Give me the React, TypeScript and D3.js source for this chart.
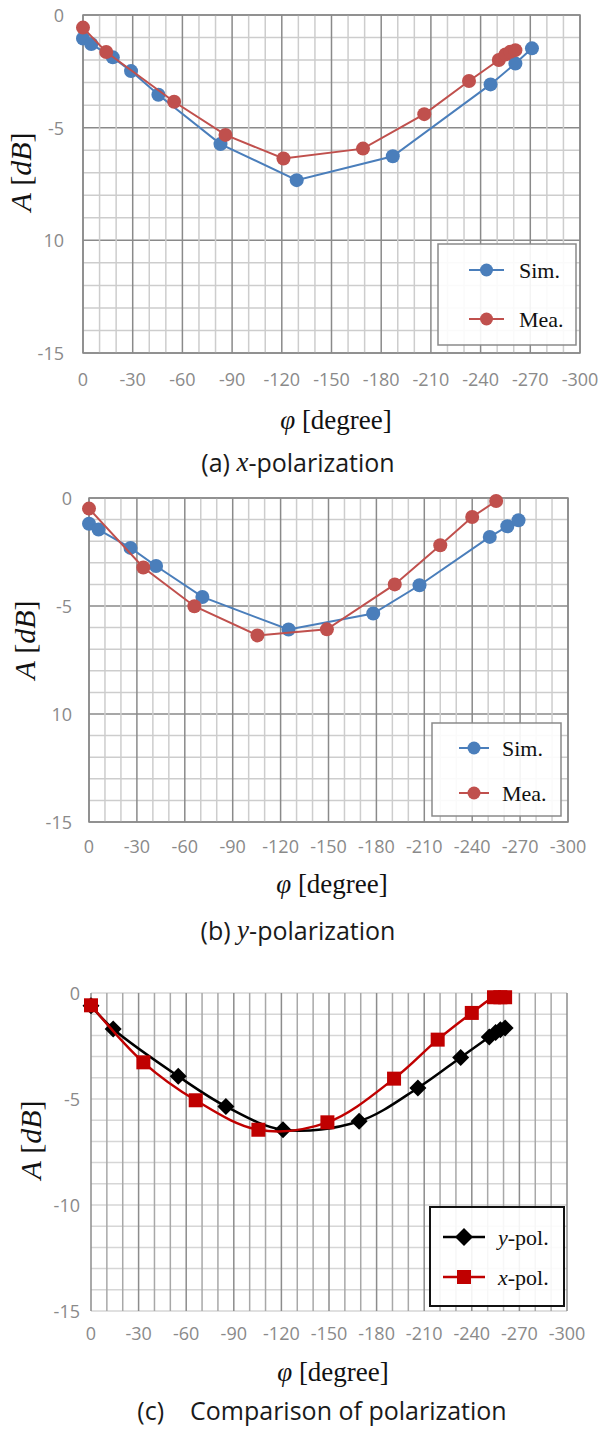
import React from "react";
import * as d3 from "d3";

// ---- data (phi in degrees, A in dB) ----
const aSimPhi = [0, -5, -18, -29, -45.5, -83, -129, -187, -246, -261, -271];
const aSimA = [-1.04, -1.29, -1.88, -2.49, -3.54, -5.73, -7.33, -6.27, -3.08, -2.15, -1.48];
const aMeaPhi = [0, -14, -55, -86, -121, -169, -206, -233, -251, -255, -258, -261];
const aMeaA = [-0.56, -1.64, -3.85, -5.32, -6.37, -5.93, -4.4, -2.93, -2.0, -1.75, -1.63, -1.56];

const bSimPhi = [0, -6, -26, -42, -71, -125, -178, -207, -251, -262, -269];
const bSimA = [-1.19, -1.46, -2.31, -3.15, -4.58, -6.09, -5.35, -4.04, -1.8, -1.31, -1.03];
const bMeaPhi = [0, -34, -66, -105.5, -149, -191.5, -220, -240, -255];
const bMeaA = [-0.49, -3.22, -5.01, -6.36, -6.08, -4.0, -2.19, -0.88, -0.14];

const cYPhi = [0, -14, -55, -85, -121, -169, -206, -233, -251, -255, -258, -261];
const cYA = [-0.6, -1.7, -3.93, -5.35, -6.45, -6.05, -4.48, -3.04, -2.08, -1.86, -1.73, -1.65];
const cXPhi = [0, -33, -66, -105.5, -149, -191, -218.5, -240, -254, -258, -261];
const cXA = [-0.58, -3.27, -5.06, -6.45, -6.1, -4.04, -2.2, -0.94, -0.2, -0.2, -0.2];

const xTickValues = [0, -30, -60, -90, -120, -150, -180, -210, -240, -270, -300];
const yTickValues = [0, -5, -10, -15];
const yTickLabelsAB = ["0", "-5", "10", "-15"];
const yTickLabelsC = ["0", "-5", "-10", "-15"];

const zip = (p: number[], a: number[]) => p.map((v, i) => ({ phi: v, A: a[i] }));

const TICK_FONT = "'Open Sans', 'Noto Sans', sans-serif";
const SERIF = "'Liberation Serif', 'DejaVu Serif', serif";

type Series = {
  name: string;
  italicPrefix?: string;
  data: { phi: number; A: number }[];
  color: string;
  marker: "circle" | "diamond" | "square";
};

type PanelCfg = {
  x0: number; x1: number; y0: number; y1: number;
  yLabels: string[];
  yLabelGap: number;
  kind: "ab" | "c";
  series: Series[];
  legend: { x: number; y: number; w: number; h: number; rows: number[]; lx0: number; lx1: number; tx: number; border: string; bw: number };
  tickY: number;
  xTitle: { x: number; y: number };
  yTitle: { x: number; y: number };
  caption: { x: number; y: number; letter: string; italic?: string; rest: string };
  smooth: boolean;
  lineW: number;
};

function Marker({ kind, x, y, color, s }: { kind: string; x: number; y: number; color: string; s: number }) {
  if (kind === "circle") return <circle cx={x} cy={y} r={s} fill={color} />;
  if (kind === "diamond")
    return <path d={`M${x},${y - s}L${x + s},${y}L${x},${y + s}L${x - s},${y}Z`} fill={color} />;
  return <rect x={x - s} y={y - s} width={2 * s} height={2 * s} fill={color} />;
}

function Panel({ cfg }: { cfg: PanelCfg }) {
  const x = d3.scaleLinear().domain([0, -300]).range([cfg.x0, cfg.x1]);
  const y = d3.scaleLinear().domain([0, -15]).range([cfg.y0, cfg.y1]);
  const vLines = d3.range(0, -301, -10);
  const hLines = d3.range(0, -16, -1);

  const minorCol = cfg.kind === "ab" ? "#cdcdcd" : "#d6d6d6";
  const majorCol = cfg.kind === "ab" ? "#8a8a8a" : "#9a9a9a";

  const line = d3
    .line<{ phi: number; A: number }>()
    .x((d) => x(d.phi))
    .y((d) => y(d.A))
    .curve(cfg.smooth ? d3.curveCatmullRom.alpha(0.5) : d3.curveLinear);

  const lg = cfg.legend;

  return (
    <g>
      {/* grid */}
      {hLines.map((v) => {
        const major = cfg.kind === "ab" && v % 5 === 0;
        return (
          <line key={"h" + v} x1={cfg.x0} x2={cfg.x1} y1={y(v)} y2={y(v)}
            stroke={major ? majorCol : minorCol} strokeWidth={1.5} />
        );
      })}
      {vLines.map((v) => {
        const major = v % 30 === 0;
        let col = major ? majorCol : minorCol;
        if (cfg.kind === "c") col = major ? "#8c8c8c" : "#a8a8a8";
        return (
          <line key={"v" + v} x1={x(v)} x2={x(v)} y1={cfg.y0} y2={cfg.y1}
            stroke={col} strokeWidth={1.5} />
        );
      })}
      {cfg.kind === "ab" && (
        <rect x={cfg.x0} y={cfg.y0} width={cfg.x1 - cfg.x0} height={cfg.y1 - cfg.y0}
          fill="none" stroke={majorCol} strokeWidth={1.5} />
      )}

      {/* y tick labels */}
      {yTickValues.map((v, i) => (
        <text key={"yl" + v} x={cfg.x0 - cfg.yLabelGap} y={y(v)} textAnchor="end" dominantBaseline="central"
          fontFamily={TICK_FONT} fontSize={18} fill="#8a8a8a">
          {cfg.yLabels[i]}
        </text>
      ))}
      {/* x tick labels */}
      {xTickValues.map((v) => (
        <text key={"xl" + v} x={x(v)} y={cfg.tickY} textAnchor="middle" dominantBaseline="central"
          fontFamily={TICK_FONT} fontSize={18} fill="#8a8a8a">
          {String(v)}
        </text>
      ))}

      {/* series */}
      {cfg.series.map((s) => (
        <g key={s.name + s.color}>
          <path d={line(s.data) || ""} fill="none" stroke={s.color} strokeWidth={cfg.lineW} />
          {s.data.map((d, i) => (
            <Marker key={i} kind={s.marker} x={x(d.phi)} y={y(d.A)} color={s.color}
              s={s.marker === "circle" ? 7 : s.marker === "diamond" ? 8.5 : 7} />
          ))}
        </g>
      ))}

      {/* legend */}
      <rect x={lg.x} y={lg.y} width={lg.w} height={lg.h} fill="#ffffff" fillOpacity={0.9}
        stroke={lg.border} strokeWidth={lg.bw} />
      {cfg.series.map((s, i) => {
        const ry = lg.rows[i];
        const cx = (lg.lx0 + lg.lx1) / 2;
        return (
          <g key={"lg" + s.color}>
            <line x1={lg.lx0} x2={lg.lx1} y1={ry} y2={ry} stroke={s.color} strokeWidth={cfg.lineW} />
            <Marker kind={s.marker} x={cx} y={ry} color={s.color}
              s={s.marker === "circle" ? 6.5 : s.marker === "diamond" ? 9 : 7} />
            <text x={lg.tx} y={ry} dominantBaseline="central" fontFamily={SERIF} fontSize={22} fill="#111">
              {s.italicPrefix ? <tspan fontStyle="italic">{s.italicPrefix}</tspan> : null}
              {s.name}
            </text>
          </g>
        );
      })}

      {/* axis titles */}
      <text x={cfg.xTitle.x} y={cfg.xTitle.y} textAnchor="middle" dominantBaseline="central"
        fontFamily={SERIF} fontSize={27} fill="#111">
        <tspan fontStyle="italic">φ</tspan> [degree]
      </text>
      <text transform={`translate(${cfg.yTitle.x},${cfg.yTitle.y}) rotate(-90)`} textAnchor="middle"
        dominantBaseline="central" fontFamily={SERIF} fontSize={30} fill="#111">
        <tspan fontStyle="italic">A</tspan> [<tspan fontStyle="italic">dB</tspan>]
      </text>

      {/* caption */}
      <text x={cfg.caption.x} y={cfg.caption.y} textAnchor="middle" dominantBaseline="central"
        fontFamily={TICK_FONT} fontSize={25} fill="#1a1a1a" style={{ whiteSpace: "pre" }}>
        {cfg.caption.letter}
        {cfg.caption.italic ? (
          <tspan fontFamily={SERIF} fontStyle="italic" fontSize={27}>{cfg.caption.italic}</tspan>
        ) : null}
        {cfg.caption.rest}
      </text>
    </g>
  );
}

const BLUE = "#4a7ebb";
const RED = "#c0504d";

const panels: PanelCfg[] = [
  {
    x0: 83, x1: 580, y0: 15, y1: 353, yLabels: yTickLabelsAB, yLabelGap: 19, kind: "ab",
    series: [
      { name: "Sim.", data: zip(aSimPhi, aSimA), color: BLUE, marker: "circle" },
      { name: "Mea.", data: zip(aMeaPhi, aMeaA), color: RED, marker: "circle" },
    ],
    legend: { x: 438, y: 244, w: 138, h: 101, rows: [270, 319], lx0: 469, lx1: 504, tx: 519, border: "#8a8a8a", bw: 1.5 },
    tickY: 379, xTitle: { x: 336, y: 420 }, yTitle: { x: 20, y: 172 },
    caption: { x: 298, y: 462, letter: "(a) ", italic: "x", rest: "-polarization" },
    smooth: false, lineW: 2,
  },
  {
    x0: 89, x1: 568, y0: 498, y1: 822, yLabels: yTickLabelsAB, yLabelGap: 17, kind: "ab",
    series: [
      { name: "Sim.", data: zip(bSimPhi, bSimA), color: BLUE, marker: "circle" },
      { name: "Mea.", data: zip(bMeaPhi, bMeaA), color: RED, marker: "circle" },
    ],
    legend: { x: 432, y: 723, w: 129, h: 93, rows: [748, 793], lx0: 459, lx1: 489, tx: 502, border: "#8a8a8a", bw: 1.5 },
    tickY: 846, xTitle: { x: 332, y: 884 }, yTitle: { x: 24, y: 640 },
    caption: { x: 298, y: 930, letter: "(b) ", italic: "y", rest: "-polarization" },
    smooth: false, lineW: 2,
  },
  {
    x0: 91, x1: 567, y0: 993, y1: 1311, yLabels: yTickLabelsC, yLabelGap: 11, kind: "c",
    series: [
      { name: "-pol.", italicPrefix: "y", data: zip(cYPhi, cYA), color: "#000000", marker: "diamond" },
      { name: "-pol.", italicPrefix: "x", data: zip(cXPhi, cXA), color: "#c00000", marker: "square" },
    ],
    legend: { x: 430, y: 1207, w: 134, h: 99, rows: [1237, 1277], lx0: 443, lx1: 485, tx: 498, border: "#111", bw: 2 },
    tickY: 1333, xTitle: { x: 333, y: 1372 }, yTitle: { x: 30, y: 1140 },
    caption: { x: 322, y: 1410, letter: "(c)    Comparison of polarization", rest: "" },
    smooth: true, lineW: 2.5,
  },
];

export default function App() {
  return (
    <svg width={602} height={1434} viewBox="0 0 602 1434"
      style={{ position: "absolute", left: 0, top: 0, background: "#fff" }}>
      <rect width={602} height={1434} fill="#fff" />
      {panels.map((p, i) => (
        <Panel key={i} cfg={p} />
      ))}
    </svg>
  );
}
